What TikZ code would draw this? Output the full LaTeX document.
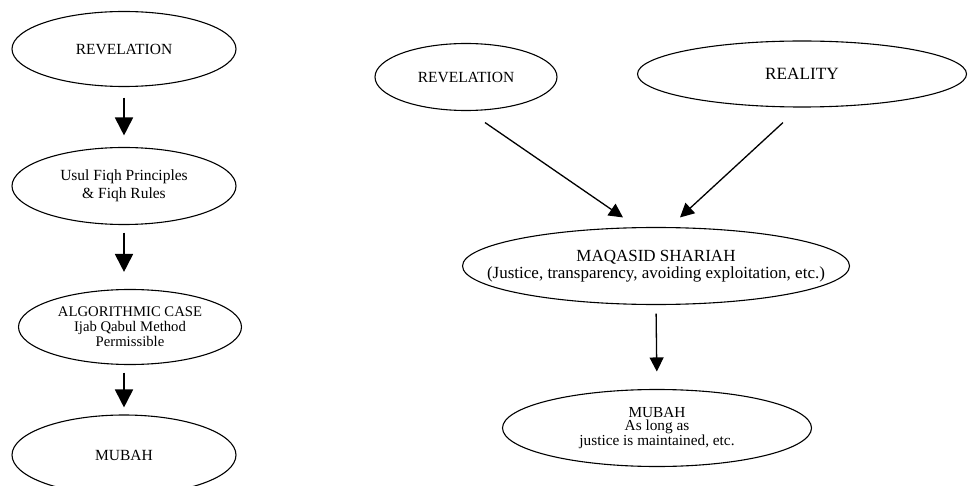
\documentclass[tikz,border=0pt]{standalone}
\usepackage{fontspec}
\setmainfont{Liberation Serif}
\usetikzlibrary{shapes.geometric,arrows.meta}

\begin{document}
\begin{tikzpicture}[x=1pt,y=-1pt]
    \tikzstyle{oval}=[draw=black, ellipse, line width=1.1pt, align=center,
        inner xsep=-60pt, inner ysep=0pt, font=\fontsize{15.5}{17.5}\selectfont]
    \tikzstyle{bigarrow}=[line width=1.8pt, -{Triangle[width=18pt,length=18pt]}]
    \tikzstyle{thinarrow}=[line width=1.3pt, -{Triangle[width=14pt,length=14pt]}]
    \useasboundingbox (0,0) rectangle (968,486);
    % left column
    \node [oval, minimum width=224, minimum height=75] (rev1) at (124,49) {REVELATION};
    \node [oval, minimum width=224, minimum height=77] (usul) at (124,186) {Usul Fiqh Principles\\ \& Fiqh Rules};
    \node [oval, minimum width=223, minimum height=75, font=\fontsize{14.7}{15}\selectfont] (algo) at (130,327) {ALGORITHMIC CASE\\ Ijab Qabul Method\\ Permissible};
    \node [oval, minimum width=224, minimum height=80] (mubah1) at (124,455) {MUBAH};
    \draw [bigarrow, shorten <=10.5, shorten >=11.5] (rev1.south) -- (usul.north);
    \draw [bigarrow, shorten <=7.5, shorten >=17] (usul.south) -- (usul.south |- algo.north);
    \draw [bigarrow, shorten <=7.5, shorten >=7] (usul.south |- algo.south) -- (mubah1.north);
    % right side
    \node [oval, minimum width=182, minimum height=67] (rev2) at (466,77) {REVELATION};
    \node [oval, minimum width=329, minimum height=66, font=\fontsize{17.2}{19}\selectfont] (real) at (802,74) {REALITY};
    \node [oval, minimum width=387, minimum height=77, font=\fontsize{17}{17}\selectfont] (maq) at (656,266) {MAQASID SHARIAH\\ (Justice, transparency, avoiding exploitation, etc.)};
    \node [oval, minimum width=309, minimum height=77, font=\fontsize{15.3}{13.5}\selectfont] (mubah2) at (657,428) {MUBAH\\ As long as\\ justice is maintained, etc.};
    \draw [thinarrow] ([shift={(19,11.5)}]rev2.south) -- ([shift={(-33,-9.5)}]maq.north);
    \draw [thinarrow] ([shift={(-19,15)}]real.south) -- ([shift={(24,-9.5)}]maq.north);
    \draw [thinarrow, shorten <=8.5, shorten >=17.5] (maq.south) -- (mubah2.north);
\end{tikzpicture}
\end{document}
